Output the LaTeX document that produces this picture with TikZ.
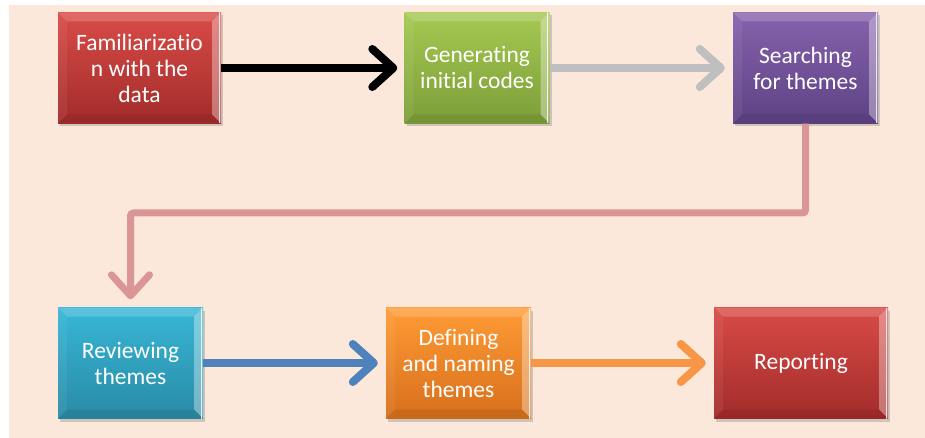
\documentclass[tikz,border=0pt]{standalone}
\usepackage{fontspec}
\setmainfont{Carlito}[Ligatures=NoCommon]
\usepackage{tikz}
\usetikzlibrary{arrows.meta,shadows,calc}

\definecolor{bgpeach}{HTML}{FBE8DA}
\definecolor{redtop}{HTML}{D94B47}
\definecolor{redbot}{HTML}{A22C2A}
\definecolor{greentop}{HTML}{A5C852}
\definecolor{greenbot}{HTML}{7C9E38}
\definecolor{purptop}{HTML}{8662AC}
\definecolor{purpbot}{HTML}{5E4285}
\definecolor{aquatop}{HTML}{37B6D6}
\definecolor{aquabot}{HTML}{298BA5}
\definecolor{orgtop}{HTML}{FF9B35}
\definecolor{orgbot}{HTML}{D76F1C}
\definecolor{pinkline}{HTML}{D99694}
\definecolor{grayline}{HTML}{BFBFBF}
\definecolor{blueline}{HTML}{4F81BD}
\definecolor{orgline}{HTML}{F79646}

\begin{document}
\begin{tikzpicture}[x=1pt,y=-1pt,
  stepbox/.style={minimum height=111pt,inner sep=0pt,align=center,text=white,
    font=\fontsize{23.5}{26}\selectfont,
    drop shadow={opacity=0.35,shadow xshift=2pt,shadow yshift=-3pt},
    path picture={
      \fill[white,opacity=0.18] (path picture bounding box.north west) -- (path picture bounding box.north east)
        -- ([shift={(-9pt,-9pt)}]path picture bounding box.north east) -- ([shift={(9pt,-9pt)}]path picture bounding box.north west) -- cycle;
      \fill[white,opacity=0.35] (path picture bounding box.north east) -- (path picture bounding box.south east)
        -- ([shift={(-9pt,9pt)}]path picture bounding box.south east) -- ([shift={(-9pt,-9pt)}]path picture bounding box.north east) -- cycle;
      \fill[white,opacity=0.06] (path picture bounding box.north west) -- (path picture bounding box.south west)
        -- ([shift={(9pt,9pt)}]path picture bounding box.south west) -- ([shift={(9pt,-9pt)}]path picture bounding box.north west) -- cycle;
      \fill[black,opacity=0.07] (path picture bounding box.south west) -- (path picture bounding box.south east)
        -- ([shift={(-9pt,9pt)}]path picture bounding box.south east) -- ([shift={(9pt,9pt)}]path picture bounding box.south west) -- cycle;
      \draw[white,line width=1pt,opacity=0.8] ([xshift=-2pt]path picture bounding box.north east) -- ([xshift=-2pt]path picture bounding box.south east);
    }},
  flow/.style={line width=8pt,shorten >=8pt,-{Straight Barb[length=21pt,width=38pt,round]}}]

\useasboundingbox (0,0) rectangle (925,438);
\fill[bgpeach] (9,5) rectangle (925,438);

\node[stepbox,minimum width=163pt,top color=redtop,bottom color=redbot] (fam) at (139.5,68) {Familiarizatio\\n with the\\data};
\node[stepbox,minimum width=145pt,top color=greentop,bottom color=greenbot] (gen) at (477,68) {Generating\\initial codes};
\node[stepbox,minimum width=145pt,top color=purptop,bottom color=purpbot] (srch) at (805.5,68) {Searching\\for themes};
\node[stepbox,minimum width=145pt,top color=aquatop,bottom color=aquabot] (rev) at (130.5,363) {Reviewing\\themes};
\node[stepbox,minimum width=145pt,top color=orgtop,bottom color=orgbot] (def) at (458.5,363) {Defining\\and naming\\themes};
\node[stepbox,minimum width=174pt,top color=redtop,bottom color=redbot] (rep) at (801,363) {Reporting};

\coordinate (bend) at (130.5,213);

\draw[flow,black,shorten >=7pt] (fam) -- (gen);
\draw[flow,grayline] (gen) -- (srch);
\draw[flow,pinkline,line width=7pt,rounded corners=3pt] (srch.south) |- (bend) -- (rev.north);
\draw[flow,blueline] (rev) -- (def);
\draw[flow,orgline] (def) -- (rep);
\end{tikzpicture}
\end{document}
